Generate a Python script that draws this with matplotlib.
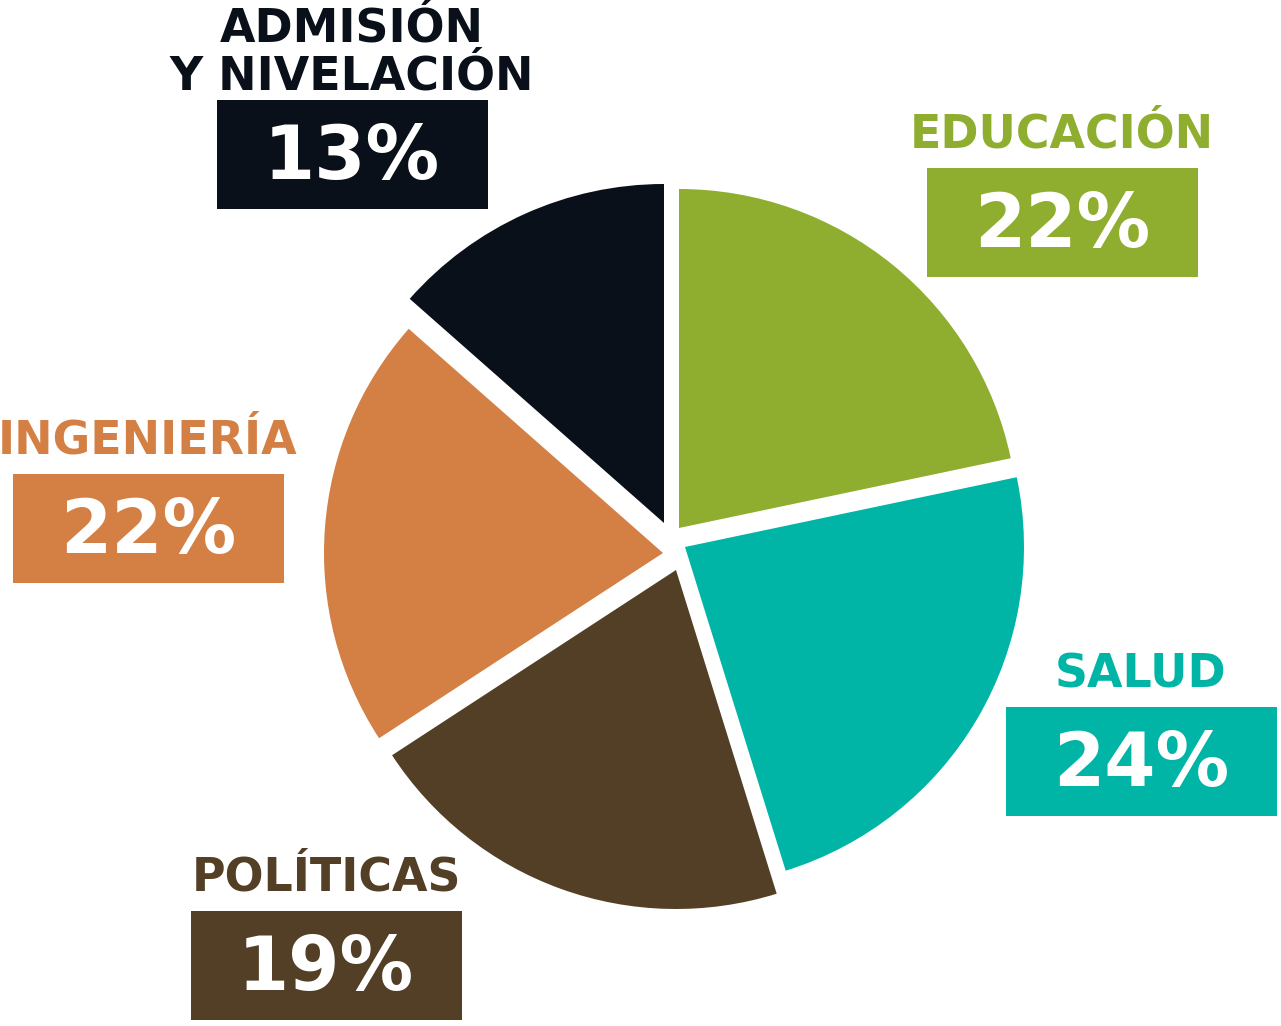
import matplotlib.pyplot as plt
from matplotlib.patches import Rectangle

categories = ['EDUCACIÓN', 'SALUD', 'POLÍTICAS', 'INGENIERÍA', 'ADMISIÓN\nY NIVELACIÓN']
pct_labels = [22, 24, 19, 22, 13]
# wedge sizes as drawn in the picture (they differ a little from the printed labels)
wedge_shares = [21.7, 23.5, 20.6, 20.7, 13.5]
colors = ['#8fae30', '#00b5a5', '#523f26', '#d47f44', '#0a101a']

# label anchor (centre x, title centre y, box top y) in image pixels
label_pos = [(1062, 135, 168), (1141, 675, 707), (326, 878, 911), (148, 441, 474), (352, 53, 100)]
# each wedge is pulled apart from the others: tip position in image pixels
wedge_tips = [(679, 528), (685, 547), (676, 570), (663, 553), (664, 523)]

W, H = 1281, 1026
fig = plt.figure(figsize=(W / 100, H / 100), dpi=100)
ax = fig.add_axes([0, 0, 1, 1])

wedges, _ = ax.pie(wedge_shares, colors=colors, startangle=90, counterclock=False,
                   center=(672, H - 545), radius=339,
                   wedgeprops=dict(linewidth=0))
for w, (tx, ty) in zip(wedges, wedge_tips):
    w.set_center((tx, H - ty))
ax.set_xlim(0, W)
ax.set_ylim(0, H)
ax.set_aspect('equal')
ax.axis('off')

font = 'DejaVu Sans'
box_w, box_h = 271, 109
for cat, val, col, (cx, ty, by) in zip(categories, pct_labels, colors, label_pos):
    ax.text(cx, H - ty, cat, ha='center', va='center', fontsize=33,
            fontweight='bold', family=font, color=col, linespacing=1.1)
    ax.add_patch(Rectangle((cx - box_w / 2, H - by - box_h), box_w, box_h,
                           facecolor=col, edgecolor='none'))
    ax.text(cx, H - by - box_h / 2 - 4, f'{val}%', ha='center', va='center',
            fontsize=53, fontweight='bold', family=font, color='white')

fig.savefig('out.png', dpi=100)
